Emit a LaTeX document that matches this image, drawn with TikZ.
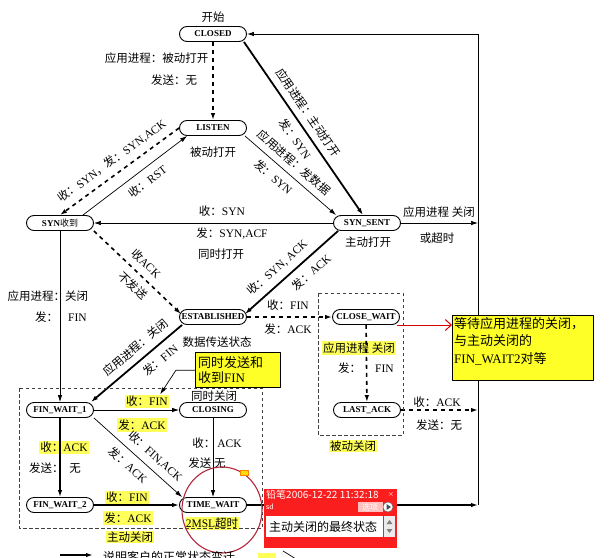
\documentclass[tikz,border=0pt]{standalone}
\usepackage{fontspec}
\setmainfont{Liberation Serif}
\newfontfamily\cjk{Noto Sans CJK SC}
\usetikzlibrary{arrows.meta,positioning,calc}

\newcommand{\zh}[1]{{\cjk #1}}
\newcommand{\lbfont}{\fontsize{11.5}{13}\selectfont}
\newcommand{\stfont}{\fontsize{9}{10}\selectfont\bfseries}
\newcommand{\notefont}{\fontsize{13}{17.5}\selectfont}

\definecolor{hlyellow}{RGB}{255,255,90}
\definecolor{noteyellow}{RGB}{255,255,40}
\definecolor{popred}{RGB}{250,30,30}
\definecolor{penred}{RGB}{180,40,60}

\tikzstyle{arr} = [-{Latex[length=7pt,width=4.5pt]}]
\tikzstyle{cline} = [line width=1.8pt]
\tikzstyle{sline} = [line width=1.6pt,dash pattern=on 4pt off 4pt]
\tikzstyle{tline} = [line width=0.7pt]

\begin{document}
\begin{tikzpicture}[
        x=1pt, y=-1pt,
        line join=round,
        every node/.style={font=\lbfont},
        state/.style={draw, line width=0.9pt, rounded corners=7.5pt,
            minimum width=67pt, minimum height=15pt, inner sep=1pt, font=\stfont},
        hl/.style={fill=hlyellow, inner sep=1.2pt},
        labup/.style={sloped, above, inner ysep=6.5pt},
        labdn/.style={sloped, below, inner ysep=6.5pt},
        grpbox/.style={draw=black!75, line width=0.7pt, dash pattern=on 3.5pt off 2.5pt},
        notebox/.style={draw, line width=1.3pt, fill=noteyellow}
    ]

        \path[use as bounding box, fill=white] (0,0) rectangle (610,557);

        % 各个状态
        \node[state] (closed)    at (213,34)  {CLOSED};
        \node[state] (listen)    at (213,128) {LISTEN};
        \node[state] (synrcvd)   at (60,223)  {SYN{\cjk\mdseries 收到}};
        \node[state] (synsent)   at (367,223) {SYN\_SENT};
        \node[state] (estab)     at (213,317) {ESTABLISHED};
        \node[state] (closewait) at (366,317) {CLOSE\_WAIT};
        \node[state] (lastack)   at (367,410) {LAST\_ACK};
        \node[state] (finwait1)  at (60,410)  {FIN\_WAIT\_1};
        \node[state] (closing)   at (213,410) {CLOSING};
        \node[state] (finwait2)  at (60,505)  {FIN\_WAIT\_2};
        \node[state] (timewait)  at (213,505) {TIME\_WAIT};

        % 右侧回到 CLOSED 的竖线
        \coordinate (rtop)  at (478,34);
        \coordinate (rsyn)  at (478,223);
        \coordinate (rlast) at (478,410);
        \coordinate (rbot)  at (478,505);

        % 状态说明
        \node at (213,17)  {\zh{开始}};
        \node at (213,152) {\zh{被动打开}};
        \node at (368,242) {\zh{主动打开}};
        \node at (217,342) {\zh{数据传送状态}};
        \node at (214,396) {\zh{同时关闭}};

        % 水平与竖直连线的标签
        \node[anchor=east] at (212,58) {\zh{应用进程：被动打开}};
        \node at (174,80)  {\zh{发送：无}};
        \node at (222,211) {\zh{收：}SYN};
        \node at (232,234) {\zh{发：}SYN,ACF};
        \node at (221,254) {\zh{同时打开}};
        \node at (439,212) {\zh{应用进程 关闭}};
        \node at (437,238) {\zh{或超时}};
        \node at (288,305) {\zh{收：}FIN};
        \node at (288,329) {\zh{发：}ACK};
        \node[hl] at (359,348) {\zh{应用进程 关闭}};
        \node at (366,368) {\zh{发：}\hspace{14pt}FIN};
        \node at (437,402) {\zh{收：}ACK};
        \node at (439,425) {\zh{发送：无}};
        \node at (48,296)  {\zh{应用进程：关闭}};
        \node at (61,317)  {\zh{发：}\hspace{10pt}FIN};
        \node[hl] (fin1) at (147,401) {\zh{收：}FIN};
        \node[hl] at (142,425) {\zh{发：}ACK};
        \node[hl] at (64,447)  {\zh{收：}ACK};
        \node at (55,468)  {\zh{发送：}\hspace{6pt}\zh{无}};
        \node at (217,443) {\zh{收：}\hspace{2pt}ACK};
        \node at (207,463) {\zh{发送 无}};
        \node[hl] at (127,497) {\zh{收：}FIN};
        \node[hl] at (128,518) {\zh{发：}ACK};
        \node[hl] at (212,523) {2MSL\zh{超时}};

        % 服务器端（虚线）
        \draw[sline,arr] (closed) -- (listen);
        \draw[sline,arr] (listen.west) --
            node[labup,pos=0.5] {\zh{收：}SYN\zh{，发：}SYN,ACK}
            (synrcvd.north);
        \draw[sline,arr] (synrcvd.south east) --
            node[labup,pos=0.5] {\zh{收}ACK}
            node[labdn,pos=0.55] {\zh{不发送}}
            ([xshift=2pt,yshift=3pt]estab.west);
        \draw[sline,arr] (estab) -- (closewait);
        \draw[sline,arr] (closewait) -- (lastack);
        \draw[sline,arr] (lastack) -- (rlast);

        % 客户端（粗实线）
        \draw[cline,arr] ([xshift=-3pt]closed.south east) --
            node[labup,pos=0.45] {\zh{应用进程：主动打开}}
            node[labdn,pos=0.52] {\zh{发：}SYN}
            ([xshift=-4pt]synsent.north);
        \draw[cline,arr] ([xshift=5pt]synsent.south west) --
            node[labup,pos=0.56] {\zh{收：}SYN, ACK}
            node[labdn,pos=0.38] {\zh{发：}ACK}
            ([xshift=-2pt,yshift=3pt]estab.east);
        \draw[cline,arr] ([xshift=3pt]estab.south west) --
            node[labup,pos=0.42] {\zh{应用进程：关闭}}
            node[labdn,pos=0.33] {\zh{发：}FIN}
            ([xshift=-3pt]finwait1.north east);
        \draw[cline,arr] (finwait1) -- (finwait2);
        \draw[cline,arr] (finwait2) -- (timewait);
        \draw[cline,arr] (timewait) -- (rbot);

        % 其他转换（细实线）
        \draw[tline,arr] ([xshift=-2pt]listen.south east) --
            node[labup,pos=0.45] {\zh{应用进程：发数据}}
            node[labdn,pos=0.4] {\zh{发：}SYN}
            ([xshift=3pt]synsent.north west);
        \draw[tline,arr] ([xshift=-11pt]synrcvd.north east) --
            node[labdn,pos=0.55] {\zh{收：}RST}
            ([xshift=8pt]listen.south west);
        \draw[tline,arr] (synsent) -- (synrcvd);
        \draw[tline,arr] (synsent) -- (rsyn);
        \draw[tline,arr] (synrcvd) -- (finwait1);
        \draw[tline,arr] (finwait1) -- (closing);
        \draw[tline,arr] (finwait1.south east) --
            node[labup,pos=0.6] {\zh{收：}FIN,ACK}
            node[labdn,pos=0.48] {\zh{发：}ACK}
            ([xshift=3pt]timewait.north west);
        \draw[tline,arr] (closing) -- (timewait);
        \draw[line width=1pt] (rbot) -- (rtop);
        \draw[line width=0.9pt,arr] (rtop) -- (closed);

        % 主动关闭与被动关闭的虚线框
        \draw[grpbox] (19,388) rectangle (262,528);
        \node[hl] at (130,537) {\zh{主动关闭}};
        \draw[grpbox] (318,293) rectangle (403,435);
        \node[hl] at (353,446) {\zh{被动关闭}};

        % 黄色批注
        \node[notebox, anchor=north west, text width=80pt, minimum height=35pt,
            inner sep=2.5pt, align=left, font=\fontsize{13}{15.5}\selectfont]
            (note1) at (195,352) {\zh{同时发送和}\\\zh{收到}FIN};
        \draw[tline,arr] (note1.west) -- ++(-19,0) -- ([xshift=-9pt]fin1.north east);

        \node[notebox, anchor=north west, minimum width=141pt, minimum height=65pt]
            (note2) at (452,315) {};
        \node[anchor=north west, align=left, inner sep=2pt, font=\notefont]
            at (note2.north west) {\zh{等待应用进程的关闭，}\\\zh{与主动关闭的}\\FIN\_WAIT2\zh{对等}};
        \coordinate (cwr) at ([xshift=-3pt,yshift=-8pt]closewait.east);
        \draw[red!85!black, line width=1pt, -{Straight Barb[length=6pt,width=11pt]}]
            (cwr) -- (cwr -| note2.west);

        % 红笔圈出 TIME_WAIT
        \draw[penred, line width=1.1pt] (222,510) ellipse [x radius=40pt, y radius=43pt];
        \filldraw[draw=orange, fill=yellow!80!orange, line width=0.4pt]
            (240,470) rectangle (248,475);

        % 铅笔批注框
        \fill[popred] (264,489) rectangle (397,548);
        \node[anchor=west, text=white, inner sep=1pt, font=\fontsize{10}{11}\selectfont\cjk]
            at (265,495) {铅笔2006-12-22 11:32:18};
        \node[text=white, inner sep=0pt, font=\fontsize{8}{9}\selectfont\sffamily] at (391,494) {$\times$};
        \node[anchor=west, text=white, inner sep=1pt, font=\fontsize{8}{9}\selectfont\sffamily]
            at (265,507) {sd};
        \fill[red!25] (358,502) rectangle (383,512);
        \node[text=white, inner sep=0pt, font=\fontsize{8}{9}\selectfont\cjk] at (370,507) {选项};
        \filldraw[fill=white, draw=black!60, line width=0.5pt] (388,507) circle (5pt);
        \fill[black!70] (386.5,504) -- (386.5,510) -- (391,507) -- cycle;
        \fill[white] (266,516) rectangle (383,537);
        \node[anchor=west, inner sep=1pt, font=\fontsize{12}{13}\selectfont\cjk]
            at (268,526.5) {主动关闭的最终状态};
        \fill[black!8] (384,516) rectangle (395,537);
        \fill[black!50] (386.5,524) -- (392.5,524) -- (389.5,520) -- cycle;
        \fill[black!50] (386.5,529) -- (392.5,529) -- (389.5,533) -- cycle;

        % 底部图例（被裁切）
        \coordinate (lgs) at (60,555);
        \coordinate (lge) at (93,555);
        \draw[cline,arr] (lgs) -- (lge);
        \node[anchor=base west, inner sep=0pt, font=\fontsize{12}{13}\selectfont\cjk]
            at (103,561) {说明客户的正常状态变迁};
        \fill[hlyellow] (258,553) rectangle (276,560);
        \draw[tline] (283,551) -- (296,559);

    \end{tikzpicture}
\end{document}
